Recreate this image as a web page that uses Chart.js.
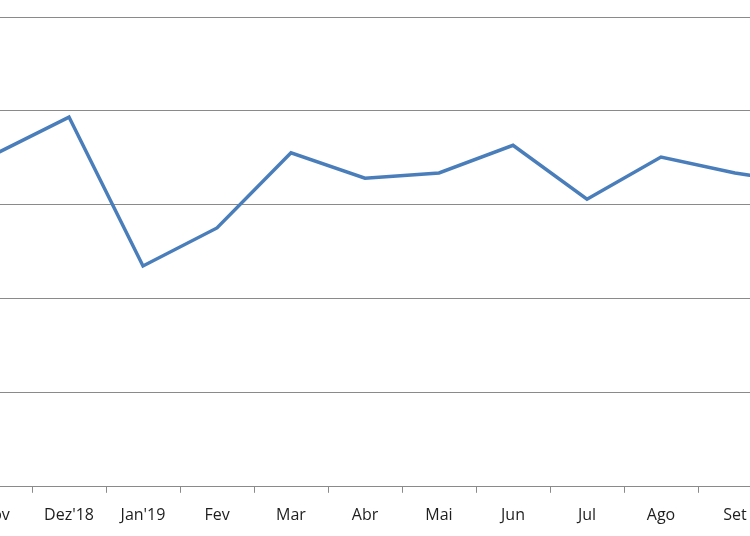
<!DOCTYPE html>
<html>
<head>
<meta charset="utf-8">
<script src="https://cdn.jsdelivr.net/npm/chart.js@4/dist/chart.umd.min.js"></script>
<style>
  html, body { margin: 0; padding: 0; background: #fff; }
  #frame { position: relative; width: 750px; height: 536px; overflow: hidden; }
  #wrap { position: absolute; left: -42px; top: 0; width: 888px; height: 539px; }
</style>
</head>
<body>
<div id="frame">
  <div id="wrap"><canvas id="lineChart"></canvas></div>
</div>
<script>
// Meses (o gráfico original está recortado nas bordas)
const meses = ["Nov", "Dez'18", "Jan'19", "Fev", "Mar", "Abr", "Mai", "Jun", "Jul", "Ago", "Set", "Out"];
const valores = [70.8, 78.7, 47.0, 55.1, 71.1, 65.7, 66.8, 72.7, 61.2, 70.2, 66.8, 64.4];
const escalaY = [0, 20, 40, 60, 80, 100];

const corLinha = '#4A7EBB';
const corGrade = '#8A8A8A';

const ctx = document.getElementById('lineChart').getContext('2d');
new Chart(ctx, {
    type: 'line',
    data: {
        labels: meses,
        datasets: [{
            data: valores,
            borderColor: corLinha,
            borderWidth: 3.5,
            pointRadius: 0,
            tension: 0,
            fill: false
        }]
    },
    options: {
        responsive: true,
        maintainAspectRatio: false,
        animation: false,
        devicePixelRatio: 1,
        layout: { padding: { top: 17, left: 0, right: 0, bottom: 1 } },
        plugins: {
            legend: { display: false },
            tooltip: { enabled: false }
        },
        scales: {
            x: {
                offset: true,
                grid: {
                    offset: true,
                    drawOnChartArea: false,
                    drawTicks: true,
                    tickLength: 6,
                    color: corGrade
                },
                border: { color: corGrade, width: 1 },
                ticks: {
                    color: '#1e1e1e',
                    padding: 13,
                    maxRotation: 0,
                    autoSkip: false,
                    font: { family: 'Open Sans', size: 16 }
                }
            },
            y: {
                min: escalaY[0],
                max: escalaY[escalaY.length - 1],
                afterBuildTicks: (axis) => {
                    axis.ticks = escalaY.map(v => ({ value: v }));
                },
                grid: { drawTicks: false, color: corGrade, lineWidth: 1 },
                border: { display: false },
                ticks: { display: false }
            }
        }
    }
});
</script>
</body>
</html>
